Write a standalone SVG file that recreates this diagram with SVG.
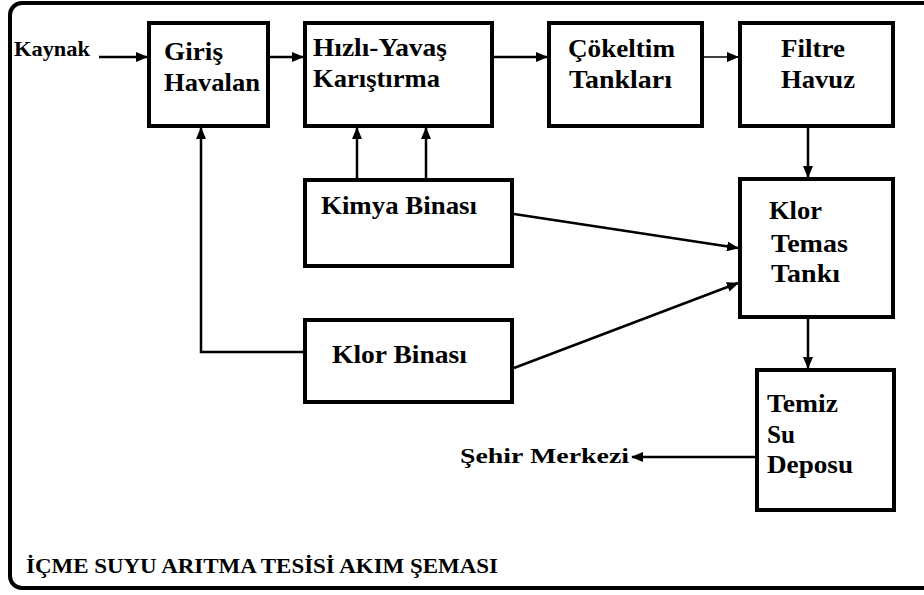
<svg xmlns="http://www.w3.org/2000/svg" width="924" height="595" viewBox="0 0 924 595">
<style>
.box{fill:#fff;stroke:#000;stroke-width:4}
.t{font-family:'Liberation Serif','Times New Roman',serif;font-weight:bold;font-size:26px;fill:#000}
.s{font-family:'Liberation Serif','Times New Roman',serif;font-weight:bold;font-size:21px;fill:#000}
.c{fill:none;stroke:#000;stroke-width:2.5}
.thin{fill:none;stroke:#000;stroke-width:1.5}
</style>
<defs>
<marker id="ah" markerUnits="userSpaceOnUse" markerWidth="12" markerHeight="10" refX="11" refY="5" orient="auto">
<path d="M0,0 L12,5 L0,10 Z" fill="#000"/>
</marker>
</defs>
<rect x="0" y="0" width="924" height="595" fill="#fff"/>
<rect id="frame" x="10" y="3" width="940" height="585" rx="12" fill="none" stroke="#000" stroke-width="4"/>

<g id="giris"><rect class="box" x="149" y="23" width="119" height="103"/>
<text class="t" x="164" y="60" textLength="59" lengthAdjust="spacingAndGlyphs">Giriş</text><text class="t" x="164" y="91" textLength="96" lengthAdjust="spacingAndGlyphs">Havalan</text></g>
<g id="hizli"><rect class="box" x="305" y="23" width="187" height="103"/>
<text class="t" x="313" y="56" textLength="134" lengthAdjust="spacingAndGlyphs">Hızlı-Yavaş</text><text class="t" x="313" y="87" textLength="127" lengthAdjust="spacingAndGlyphs">Karıştırma</text></g>
<g id="cokeltim"><rect class="box" x="549" y="23" width="153" height="103"/>
<text class="t" x="568" y="57" textLength="107" lengthAdjust="spacingAndGlyphs">Çökeltim</text><text class="t" x="569" y="88" textLength="103" lengthAdjust="spacingAndGlyphs">Tankları</text></g>
<g id="filtre"><rect class="box" x="740" y="23" width="153" height="103"/>
<text class="t" x="781" y="57" textLength="64" lengthAdjust="spacingAndGlyphs">Filtre</text><text class="t" x="781" y="88" textLength="74" lengthAdjust="spacingAndGlyphs">Havuz</text></g>
<g id="klortemas"><rect class="box" x="740" y="179" width="153" height="138"/>
<text class="t" x="769" y="219" textLength="53" lengthAdjust="spacingAndGlyphs">Klor</text><text class="t" x="771" y="252" textLength="77" lengthAdjust="spacingAndGlyphs">Temas</text><text class="t" x="771" y="282" textLength="69" lengthAdjust="spacingAndGlyphs">Tankı</text></g>
<g id="temiz"><rect class="box" x="757" y="370" width="137" height="140"/>
<text class="t" x="767" y="412" textLength="71" lengthAdjust="spacingAndGlyphs">Temiz</text><text class="t" x="767" y="443" textLength="28" lengthAdjust="spacingAndGlyphs">Su</text><text class="t" x="767" y="473" textLength="86" lengthAdjust="spacingAndGlyphs">Deposu</text></g>
<g id="kimya"><rect class="box" x="305" y="180" width="207" height="86"/>
<text class="t" x="321" y="214" textLength="156" lengthAdjust="spacingAndGlyphs">Kimya Binası</text></g>
<g id="klorbinasi"><rect class="box" x="305" y="320" width="207" height="82"/>
<text class="t" x="332" y="363" textLength="135" lengthAdjust="spacingAndGlyphs">Klor Binası</text></g>

<g id="labels">
<text class="s" x="14" y="56" textLength="76" lengthAdjust="spacingAndGlyphs">Kaynak</text>
<text class="s" x="460" y="463" font-size="24" textLength="169" lengthAdjust="spacingAndGlyphs">Şehir Merkezi</text>
<text class="s" x="26" y="573" font-size="25" textLength="472" lengthAdjust="spacingAndGlyphs">İÇME SUYU ARITMA TESİSİ AKIM ŞEMASI</text>
</g>

<g id="connectors">
<line class="c" x1="99" y1="57" x2="147" y2="57" marker-end="url(#ah)"/>
<line class="c" x1="270" y1="57" x2="303" y2="57" marker-end="url(#ah)"/>
<line class="c" x1="494" y1="57" x2="547" y2="57" marker-end="url(#ah)"/>
<line class="thin" x1="704" y1="57" x2="738" y2="57" marker-end="url(#ah)"/>
<line class="c" x1="808" y1="128" x2="808" y2="177" marker-end="url(#ah)"/>
<line class="c" x1="808" y1="319" x2="808" y2="368" marker-end="url(#ah)"/>
<line class="c" x1="357" y1="178" x2="357" y2="128" marker-end="url(#ah)"/>
<line class="c" x1="426" y1="178" x2="426" y2="128" marker-end="url(#ah)"/>
<polyline class="c" points="303,352 201,352 201,128" marker-end="url(#ah)"/>
<line class="c" x1="514" y1="214" x2="738" y2="248" marker-end="url(#ah)"/>
<line class="c" x1="514" y1="368" x2="738" y2="283" marker-end="url(#ah)"/>
<line class="c" x1="755" y1="457" x2="632" y2="457" marker-end="url(#ah)"/>
</g>
</svg>
